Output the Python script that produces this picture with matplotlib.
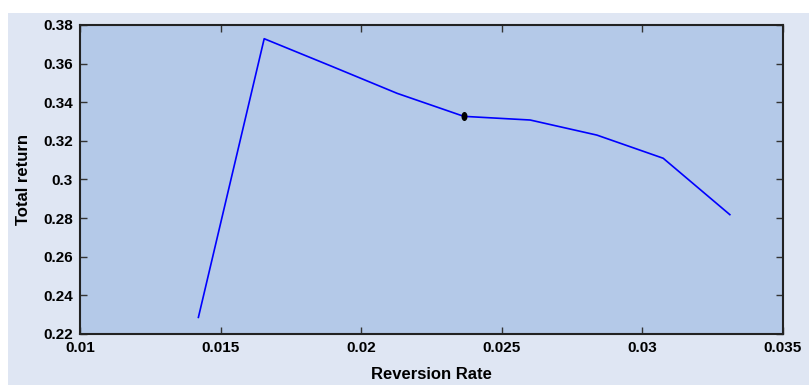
import matplotlib.pyplot as plt
from matplotlib.patches import Rectangle
from matplotlib.path import Path
from matplotlib.transforms import Affine2D

# Reversion rate vs total return
reversion_rate = [0.01421, 0.01655, 0.01892, 0.02128, 0.02365, 0.02601, 0.02838, 0.03074, 0.03311]
total_return = [0.2286, 0.3729, 0.3588, 0.3446, 0.3327, 0.3308, 0.3230, 0.3110, 0.2818]
highlight_x = [0.02365]
highlight_y = [0.3327]

xticks = [0.01, 0.015, 0.02, 0.025, 0.03, 0.035]
xtick_labels = ["0.01", "0.015", "0.02", "0.025", "0.03", "0.035"]
yticks = [0.22, 0.24, 0.26, 0.28, 0.3, 0.32, 0.34, 0.36, 0.38]
ytick_labels = ["0.22", "0.24", "0.26", "0.28", "0.3", "0.32", "0.34", "0.36", "0.38"]

plt.rcParams['font.family'] = ['Liberation Sans', 'DejaVu Sans']

fig = plt.figure(figsize=(8.09, 3.85), dpi=100, facecolor='white')
# light panel behind everything (white margin on top and left)
fig.add_artist(Rectangle((8 / 809, 0), 1 - 8 / 809, 1 - 13 / 385,
                         transform=fig.transFigure, facecolor='#dfe6f3',
                         edgecolor='none', zorder=-10))

ax = fig.add_axes([80 / 809, 1 - 334 / 385, 703 / 809, 309 / 385])
ax.set_facecolor('#b4c9e8')

# tall narrow dot used for the highlighted point
ellipse = Path.unit_circle().transformed(Affine2D().scale(0.6, 1.0))

ax.plot(reversion_rate, total_return, color='#0000ff', linewidth=1.2)
ax.plot(highlight_x, highlight_y, marker=ellipse, color='black',
        markersize=5.5, linestyle='none')

ax.set_xlim(0.01, 0.035)
ax.set_ylim(0.22, 0.38)
ax.set_xticks(xticks)
ax.set_xticklabels(xtick_labels, fontweight='bold', fontsize=11)
ax.set_yticks(yticks)
ax.set_yticklabels(ytick_labels, fontweight='bold', fontsize=11)
ax.tick_params(direction='in', top=True, right=True, length=5, width=1,
               color='#333333', pad=5)

for s in ax.spines.values():
    s.set_linewidth(1.5)
    s.set_color('#222222')

ax.set_xlabel("Reversion Rate", fontweight='bold', fontsize=12, labelpad=9)
ax.set_ylabel("Total return", fontweight='bold', fontsize=12, labelpad=9)

fig.savefig("out.png", dpi=100, facecolor='white')
